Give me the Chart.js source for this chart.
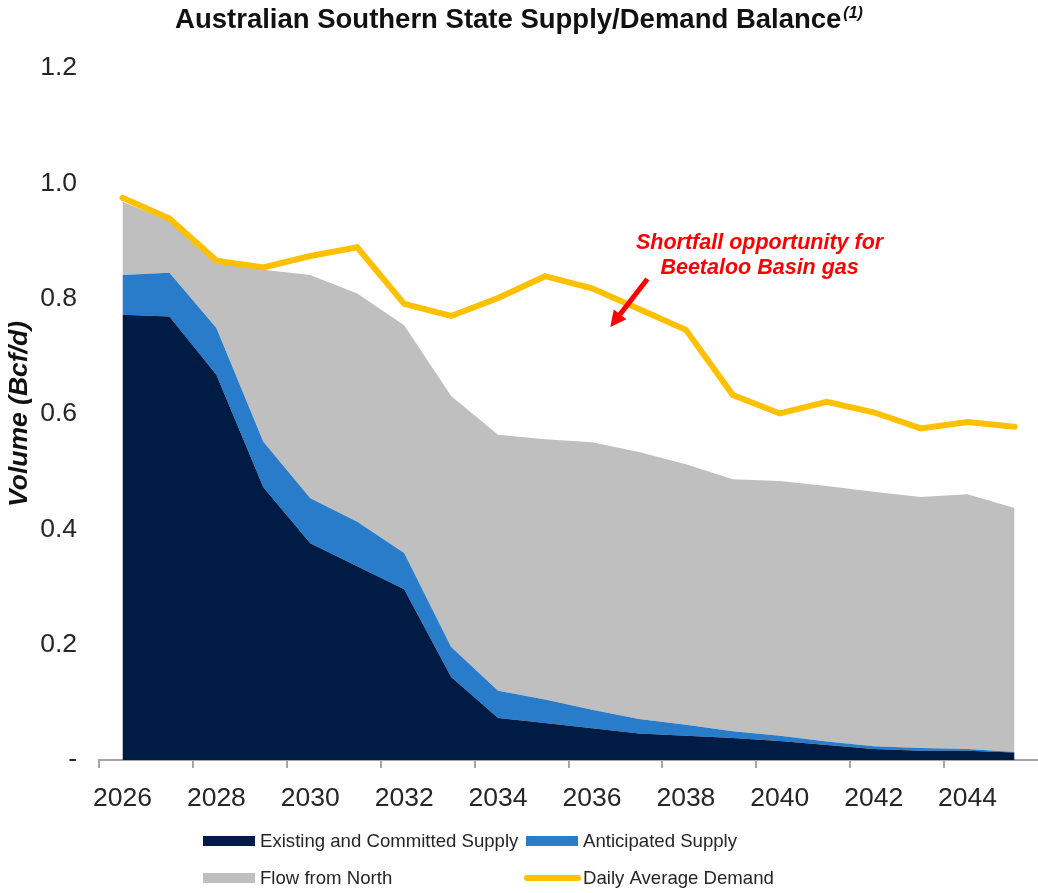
<!DOCTYPE html>
<html>
<head>
<meta charset="utf-8">
<title>Australian Southern State Supply/Demand Balance</title>
<script src="https://cdn.jsdelivr.net/npm/chart.js@4.4.1/dist/chart.umd.min.js"></script>
<style>
  html, body { margin: 0; padding: 0; background: #ffffff; }
  #wrap { width: 1038px; height: 893px; }
</style>
</head>
<body>
<div id="wrap"><canvas id="balance" width="1038" height="893"></canvas></div>
<script>
// Bcf/d by year
const years = ['2026', '2027', '2028', '2029', '2030', '2031', '2032', '2033', '2034', '2035',
               '2036', '2037', '2038', '2039', '2040', '2041', '2042', '2043', '2044', '2045'];
const existingSupply = [0.772, 0.769, 0.668, 0.473, 0.376, 0.336, 0.296, 0.144, 0.073, 0.064,
                        0.055, 0.046, 0.042, 0.038, 0.033, 0.026, 0.019, 0.016, 0.016, 0.013];
const anticipatedSupply = [0.069, 0.076, 0.081, 0.079, 0.078, 0.077, 0.063, 0.052, 0.047, 0.041,
                           0.032, 0.025, 0.019, 0.012, 0.009, 0.006, 0.005, 0.005, 0.003, 0.001];
const flowFromNorth = [0.127, 0.090, 0.113, 0.298, 0.387, 0.396, 0.395, 0.435, 0.444, 0.451,
                       0.464, 0.463, 0.452, 0.437, 0.442, 0.443, 0.441, 0.435, 0.442, 0.423];
const dailyDemand = [0.975, 0.939, 0.866, 0.854, 0.874, 0.889, 0.791, 0.770, 0.801, 0.839,
                     0.818, 0.782, 0.746, 0.633, 0.601, 0.621, 0.603, 0.575, 0.586, 0.578];

const FONT = "'Liberation Sans', Arial, Helvetica, sans-serif";
const TEXT = '#262626';
const AXIS_GREY = '#a6a6a6';

Chart.defaults.font.family = FONT;
Chart.defaults.color = TEXT;

// title with a small italic footnote marker
const titlePlugin = {
  id: 'balanceTitle',
  afterDraw(chart) {
    const ctx = chart.ctx;
    const main = 'Australian Southern State Supply/Demand Balance';
    const note = '(1)';
    ctx.save();
    ctx.fillStyle = '#111111';
    ctx.textBaseline = 'alphabetic';
    ctx.textAlign = 'left';
    ctx.font = 'bold 27.5px ' + FONT;
    const w1 = ctx.measureText(main).width;
    ctx.font = 'italic bold 16px ' + FONT;
    const w2 = ctx.measureText(note).width;
    const x0 = (chart.width - w1 - w2 - 2) / 2;
    ctx.font = 'bold 27.5px ' + FONT;
    ctx.fillText(main, x0, 28);
    ctx.font = 'italic bold 16px ' + FONT;
    ctx.fillText(note, x0 + w1 + 2, 18);
    ctx.restore();
  }
};

// red call-out placed in data space (category index, Bcf/d)
const calloutPlugin = {
  id: 'shortfallCallout',
  afterDatasetsDraw(chart) {
    const { ctx, scales: { x, y } } = chart;
    ctx.save();
    ctx.fillStyle = '#ff0000';
    ctx.strokeStyle = '#ff0000';
    ctx.font = 'italic bold 21.5px ' + FONT;
    ctx.textAlign = 'center';
    ctx.textBaseline = 'middle';
    const tx = x.getPixelForValue(13.57);
    ctx.fillText('Shortfall opportunity for', tx, y.getPixelForValue(0.896));
    ctx.fillText('Beetaloo Basin gas', tx, y.getPixelForValue(0.853));

    const x1 = x.getPixelForValue(11.18), y1 = y.getPixelForValue(0.834);
    const x2 = x.getPixelForValue(10.39), y2 = y.getPixelForValue(0.751);
    const ang = Math.atan2(y2 - y1, x2 - x1);
    const head = 16, half = 8;
    const bx = x2 - head * Math.cos(ang), by = y2 - head * Math.sin(ang);
    ctx.lineWidth = 5;
    ctx.beginPath();
    ctx.moveTo(x1, y1);
    ctx.lineTo(bx + 2 * Math.cos(ang), by + 2 * Math.sin(ang));
    ctx.stroke();
    ctx.beginPath();
    ctx.moveTo(x2, y2);
    ctx.lineTo(bx + half * Math.sin(ang), by - half * Math.cos(ang));
    ctx.lineTo(bx - half * Math.sin(ang), by + half * Math.cos(ang));
    ctx.closePath();
    ctx.fill();
    ctx.restore();
  }
};

// two-column legend under the axis
const legendPlugin = {
  id: 'bottomLegend',
  afterDraw(chart) {
    const ctx = chart.ctx;
    const slots = [[203, 841], [526, 841], [203, 878], [526, 878]];
    ctx.save();
    ctx.font = '18.6px ' + FONT;
    ctx.textBaseline = 'middle';
    ctx.textAlign = 'left';
    chart.data.datasets.forEach((ds, i) => {
      const [sx, sy] = slots[i];
      if (ds.type === 'line' && !ds.fill) {
        ctx.strokeStyle = ds.borderColor;
        ctx.lineWidth = 6;
        ctx.lineCap = 'round';
        ctx.beginPath();
        ctx.moveTo(sx + 1, sy);
        ctx.lineTo(sx + 52, sy);
        ctx.stroke();
      } else {
        ctx.fillStyle = ds.backgroundColor;
        ctx.fillRect(sx, sy - 5, 52, 10);
      }
      ctx.fillStyle = TEXT;
      ctx.fillText(ds.label, sx + 57, sy + 1);
    });
    ctx.restore();
  }
};

const area = (label, data, colour) => ({
  type: 'line',
  label: label,
  data: data,
  stack: 'supply',
  backgroundColor: colour,
  borderColor: 'rgba(0,0,0,0)',
  borderWidth: 1,
  pointRadius: 0,
  tension: 0,
  order: 1
});

const ctx = document.getElementById('balance').getContext('2d');
const chart = new Chart(ctx, {
  type: 'line',
  data: {
    labels: years,
    datasets: [
      Object.assign(area('Existing and Committed Supply', existingSupply, '#001c44'), { fill: 'origin' }),
      Object.assign(area('Anticipated Supply', anticipatedSupply, '#297cca'), { fill: '-1' }),
      Object.assign(area('Flow from North', flowFromNorth, '#bfbfbf'), { fill: '-1' }),
      {
        type: 'line',
        label: 'Daily Average Demand',
        data: dailyDemand,
        stack: 'demand',
        fill: false,
        borderColor: '#ffc000',
        backgroundColor: '#ffc000',
        borderWidth: 6,
        borderCapStyle: 'round',
        borderJoinStyle: 'miter',
        pointRadius: 0,
        tension: 0,
        order: 0
      }
    ]
  },
  options: {
    responsive: false,
    animation: false,
    layout: { padding: { top: 68, left: 0, right: 0, bottom: 0 } },
    plugins: {
      legend: { display: false },
      tooltip: { enabled: false },
      title: { display: false }
    },
    scales: {
      x: {
        type: 'category',
        offset: true,
        afterFit(scale) { scale.height = 133; },
        grid: {
          display: true,
          offset: true,
          drawOnChartArea: false,
          drawTicks: true,
          tickLength: 8,
          lineWidth: 2,
          color: (c) => (c.index % 2 === 0 ? AXIS_GREY : 'rgba(0,0,0,0)'),
          tickColor: (c) => (c.index % 2 === 0 ? AXIS_GREY : 'rgba(0,0,0,0)')
        },
        border: { display: true, color: AXIS_GREY, width: 2 },
        ticks: {
          autoSkip: false,
          maxRotation: 0,
          padding: 15,
          color: TEXT,
          font: { size: 26.5 },
          callback(value, index) { return index % 2 === 0 ? this.getLabelForValue(value) : ''; }
        }
      },
      y: {
        stacked: true,
        min: 0,
        max: 1.2,
        afterFit(scale) { scale.width = 99; },
        grid: { display: false, drawTicks: false },
        border: { display: false },
        ticks: {
          stepSize: 0.2,
          padding: 22,
          color: TEXT,
          font: { size: 26.5 },
          callback(v) { return Math.abs(v) < 1e-9 ? '-' : v.toFixed(1); }
        },
        title: {
          display: true,
          text: 'Volume (Bcf/d)',
          color: '#111111',
          font: { size: 26.5, weight: 'bold', style: 'italic' },
          padding: { top: 4, bottom: 0 }
        }
      }
    }
  },
  plugins: [titlePlugin, calloutPlugin, legendPlugin]
});
</script>
</body>
</html>
